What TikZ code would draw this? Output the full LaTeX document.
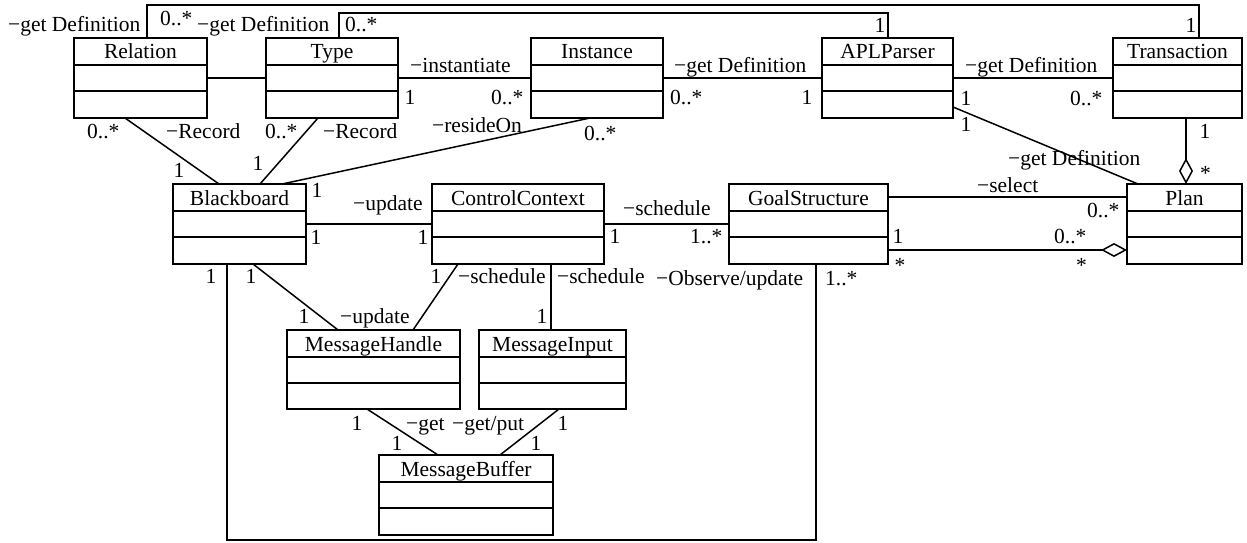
\documentclass[tikz,border=0pt]{standalone}
\usepackage{fontspec}
\setmainfont{Liberation Serif}
\usetikzlibrary{arrows.meta}
\tikzset{
  classbox/.style={draw, line width=1.5pt, inner sep=0pt, outer sep=0pt},
  divider/.style={line width=1.5pt},
  ctitle/.style={anchor=base, inner sep=0pt, font=\fontsize{21.5}{24}\selectfont},
  lab/.style={anchor=base west, inner sep=0pt, font=\fontsize{21.5}{24}\selectfont},
  assoc/.style={line width=1.5pt},
  aggr/.style={line width=1.5pt, -{Diamond[open, length=26pt, width=14pt, line width=1.5pt]}},
}
\newcommand\umlclass[6]{%
  \node[classbox, minimum width=#4pt, minimum height=#5pt, anchor=north west] (#1) at (#2,#3) {};
  \draw[divider] ([yshift=-27pt]#1.north west) -- ([yshift=-27pt]#1.north east);
  \draw[divider] ([yshift=-53pt]#1.north west) -- ([yshift=-53pt]#1.north east);
  \node[ctitle] (#1-t) at ([yshift=-21pt]#1.north) {#6};
}
\newcommand\lbl[4]{\node[lab] (#1) at (#2,#3) {#4};}
\begin{document}
\begin{tikzpicture}[x=1pt,y=-1pt]
\useasboundingbox (0,0) rectangle (1247,543);
% classes
\umlclass{rel}{74}{38}{133}{80}{Relation}
\umlclass{type}{266}{38}{132}{80}{Type}
\umlclass{inst}{531}{38}{132}{80}{Instance}
\umlclass{apl}{822}{38}{131}{80}{APLParser}
\umlclass{trans}{1113}{38}{129}{80}{Transaction}
\umlclass{bb}{173}{184}{133}{80}{Blackboard}
\umlclass{cc}{432}{184}{172}{80}{ControlContext}
\umlclass{gs}{729}{184}{159}{80}{GoalStructure}
\umlclass{plan}{1127}{184}{115}{80}{Plan}
\umlclass{mh}{287}{330}{173}{79}{MessageHandle}
\umlclass{mi}{479}{330}{147}{79}{MessageInput}
\umlclass{mb}{379}{455}{174}{80}{MessageBuffer}
% connectors
\draw[assoc] (147,0 |- rel.north) -- (147,5) -- (1199,5) -- (1199,0 |- trans.north);
\draw[assoc] (339,0 |- type.north) -- (339,13) -- (888,13) -- (888,0 |- apl.north);
\draw[assoc] (rel.east |- 0,78) -- (type.west |- 0,78);
\draw[assoc] (type.east |- 0,78) -- (inst.west |- 0,78);
\draw[assoc] (inst.east |- 0,78) -- (apl.west |- 0,78);
\draw[assoc] (apl.east |- 0,78) -- (trans.west |- 0,78);
\draw[assoc] (125,0 |- rel.south) -- (219,0 |- bb.north);
\draw[assoc] (318,0 |- type.south) -- (260,0 |- bb.north);
\draw[assoc] (590,0 |- inst.south) -- (282,0 |- bb.north);
\draw[assoc] (bb.east |- 0,224) -- (cc.west |- 0,224);
\draw[assoc] (cc.east |- 0,224) -- (gs.west |- 0,224);
\draw[assoc] (gs.east |- 0,197) -- (plan.west |- 0,197);
\draw[aggr] (gs.east |- 0,250) -- (plan.west |- 0,250);
\draw[aggr] (1186,0 |- trans.south) -- (1186,0 |- plan.north);
\draw[assoc] (apl.east |- 0,107) -- (1138,0 |- plan.north);
\draw[assoc] (253,0 |- bb.south) -- (338,0 |- mh.north);
\draw[assoc] (458,0 |- cc.south) -- (413,0 |- mh.north);
\draw[assoc] (551,0 |- cc.south) -- (551,0 |- mi.north);
\draw[assoc] (227,0 |- bb.south) -- (227,540) -- (816,540) -- (816,0 |- gs.south);
\draw[assoc] (367,0 |- mh.south) -- (438,0 |- mb.north);
\draw[assoc] (559,0 |- mi.south) -- (500,0 |- mb.north);
% labels
\lbl{l1}{8}{32}{−get Definition}
\lbl{l2}{160}{26}{0..*}
\lbl{l3}{197}{32}{−get Definition}
\lbl{l4}{345}{32}{0..*}
\lbl{l5}{874.5}{33}{1}
\lbl{l6}{1185.5}{33}{1}
\lbl{l7}{410}{72}{−instantiate}
\lbl{l8}{404.5}{104}{1}
\lbl{l9}{491}{104}{0..*}
\lbl{l10}{674}{72}{−get Definition}
\lbl{l11}{670}{104}{0..*}
\lbl{l12}{801.5}{104}{1}
\lbl{l13}{965}{72}{−get Definition}
\lbl{l14}{960.5}{105}{1}
\lbl{l15}{1070}{105}{0..*}
\lbl{l16}{960.5}{131}{1}
\lbl{l17}{87}{138}{0..*}
\lbl{l18}{166}{138}{−Record}
\lbl{l19}{265}{138}{0..*}
\lbl{l20}{323}{138}{−Record}
\lbl{l21}{432}{132}{−resideOn}
\lbl{l22}{584}{140}{0..*}
\lbl{l23}{173.5}{177}{1}
\lbl{l24}{252.5}{170}{1}
\lbl{l25}{1199.5}{138}{1}
\lbl{l26}{1008}{165}{−get Definition}
\lbl{l27}{1200}{180}{*}
\lbl{l28}{977}{192}{−select}
\lbl{l29}{311.5}{197}{1}
\lbl{l30}{353}{210}{−update}
\lbl{l31}{310.5}{244}{1}
\lbl{l32}{417.5}{244}{1}
\lbl{l33}{609.5}{243}{1}
\lbl{l34}{623}{215}{−schedule}
\lbl{l35}{690}{243}{1..*}
\lbl{l36}{1087}{217}{0..*}
\lbl{l37}{892.5}{243}{1}
\lbl{l38}{1054}{243}{0..*}
\lbl{l39}{894.5}{272}{*}
\lbl{l40}{1076}{272}{*}
\lbl{l41}{205.5}{283}{1}
\lbl{l42}{245.5}{283}{1}
\lbl{l43}{430.5}{283}{1}
\lbl{l44}{458}{283}{−schedule}
\lbl{l45}{557}{283}{−schedule}
\lbl{l46}{656}{285}{−Observe/update}
\lbl{l47}{825}{285}{1..*}
\lbl{l48}{298.5}{323}{1}
\lbl{l49}{340}{323}{−update}
\lbl{l50}{536.5}{323}{1}
\lbl{l51}{351.5}{430}{1}
\lbl{l52}{406}{430}{−get}
\lbl{l53}{452}{430}{−get/put}
\lbl{l54}{557.5}{430}{1}
\lbl{l55}{391.5}{450}{1}
\lbl{l56}{530.5}{450}{1}
\end{tikzpicture}
\end{document}
